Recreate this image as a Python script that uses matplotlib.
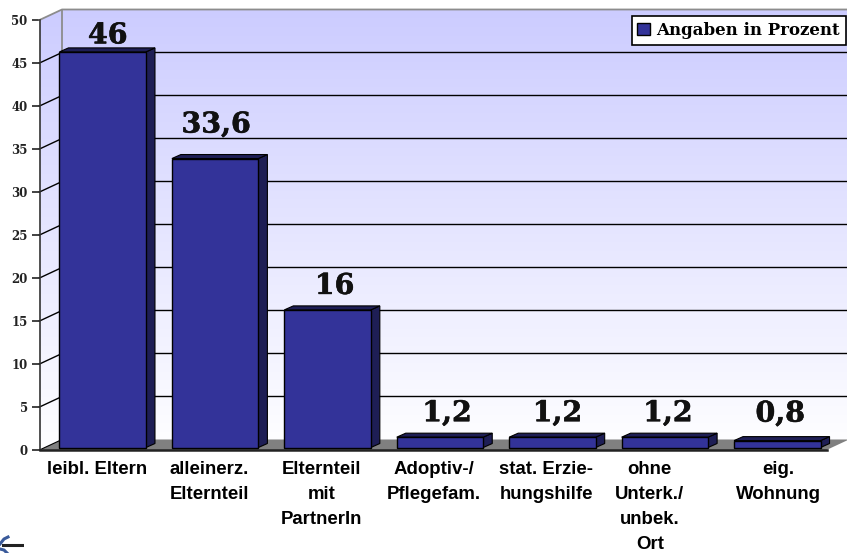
import matplotlib
matplotlib.use("Agg")
import matplotlib.pyplot as plt
import matplotlib.patheffects as pe
from matplotlib.patches import Polygon
from matplotlib.transforms import ScaledTranslation
import numpy as np

categories = ["leibl. Eltern", "alleinerz.\nElternteil", "Elternteil\nmit\nPartnerIn",
              "Adoptiv-/\nPflegefam.", "stat. Erzie-\nhungshilfe", "ohne\nUnterk./\nunbek.\nOrt",
              "eig.\nWohnung"]
values = [46, 33.6, 16, 1.2, 1.2, 1.2, 0.8]
value_labels = ["46", "33,6", "16", "1,2", "1,2", "1,2", "0,8"]
yticks = [0, 5, 10, 15, 20, 25, 30, 35, 40, 45, 50]

# hand placement of the text, px
label_lift = [8.5, 26, 16, 16, 16, 16, 19]
label_shift = [5, 1, 7, 7, 5, 3, 3]
cat_shift = [1, 1, 1, 1, 1, -8, 8]

W, H = 847, 553
FRONT = "#333399"
DARK = "#1e1e55"

fig = plt.figure(figsize=(W / 100, H / 100), dpi=100, facecolor="white")
ax = fig.add_axes([39.5 / W, 1 - 450 / H, 787 / W, 430 / H])
ax.patch.set_alpha(0)

# px -> data units
px_x = 7 / 787
px_y = 50 / 430
dx, dy = 22.5 * px_x, 10.5 * px_y
left, right = -0.5, 6.5

# walls with gradient
wall = Polygon([(left, 0), (left, 50), (left + dx, 50 + dy), (right + dx, 50 + dy),
                (right + dx, dy), (left + dx, dy)], closed=True, transform=ax.transData,
               facecolor="none", edgecolor="none", clip_on=False)
ax.add_patch(wall)
grad = np.linspace(0, 1, 256).reshape(-1, 1, 1)
top_col = np.array([204, 204, 255]) / 255
img = top_col + grad * (1 - top_col)
im = ax.imshow(img, extent=(left, right + dx, 0, 50 + dy), aspect="auto", origin="upper", zorder=0)
im.set_clip_box(fig.bbox)
im.set_clip_path(wall)
ax.set_xlim(left, right)
ax.set_ylim(0, 50)

# floor
ax.add_patch(Polygon([(left, 0), (left + dx, dy), (right + dx, dy), (right, 0)],
                     closed=True, facecolor="#808080", edgecolor="none", zorder=1, clip_on=False))

# gridlines
for t in yticks[1:-1]:
    ax.plot([left, left + dx, right + dx], [t, t + dy, t + dy], color="black", lw=1,
            zorder=2, clip_on=False, solid_joinstyle="miter")
ax.plot([left, left + dx, right + dx], [50, 50 + dy, 50 + dy], color="#8c8c8c", lw=1.3, zorder=2, clip_on=False)
ax.plot([left + dx, left + dx], [dy, 50 + dy], color="#8c8c8c", lw=1.3, zorder=2, clip_on=False)
ax.plot([left, left + dx], [0, dy], color="black", lw=0.8, zorder=2, clip_on=False)

# bars
width = 86.5 * px_x
shift = 7 * px_x
base = 2.5 * px_y
bdx, bdy = 9 * px_x, 4 * px_y
bars = ax.bar(np.arange(len(values)) + shift, values, width, bottom=base, color=FRONT,
              edgecolor="black", linewidth=1, zorder=4, label="Angaben in Prozent")
for bar, val, txt, lift, sh in zip(bars, values, value_labels, label_lift, label_shift):
    x0 = bar.get_x()
    x1 = x0 + bar.get_width()
    top = base + val
    ax.add_patch(Polygon([(x1, base), (x1 + bdx, base + bdy), (x1 + bdx, top + bdy), (x1, top)],
                         closed=True, facecolor=DARK, edgecolor="black", lw=0.8, zorder=3, clip_on=False))
    ax.add_patch(Polygon([(x0, top), (x0 + bdx, top + bdy), (x1 + bdx, top + bdy), (x1, top)],
                         closed=True, facecolor=DARK, edgecolor="black", lw=0.8, zorder=3, clip_on=False))
    t = ax.annotate(txt, (x0 + bar.get_width() / 2, top), xytext=(sh * 0.72, lift * 0.72), textcoords="offset points",
                    ha="center", va="baseline", family="DejaVu Serif", weight="bold", fontsize=20.5,
                    color="#111111", zorder=6, annotation_clip=False)
    t.set_path_effects([pe.withStroke(linewidth=0.4, foreground="#111111")])

# axes
for s in ["top", "right"]:
    ax.spines[s].set_visible(False)
ax.spines["left"].set_linewidth(1.2)
ax.spines["bottom"].set_linewidth(1.8)
ax.spines["bottom"].set_color("#222222")
ax.spines["left"].set_color("#333333")
ax.set_yticks(yticks)
ax.set_yticklabels([str(t) for t in yticks], family="DejaVu Serif", weight="bold", fontsize=8.5, color="#222222")
ax.tick_params(axis="y", length=5.5, width=1.2, pad=3, color="#222222")
ax.set_xticks(np.arange(len(categories)))
ax.set_xticklabels(categories, family="Liberation Sans", weight="bold", fontsize=13.4, color="black", linespacing=1.6)
ax.tick_params(axis="x", length=0, pad=8)
for lab, off in zip(ax.get_xticklabels(), cat_shift):
    lab.set_transform(lab.get_transform() + ScaledTranslation(off / 100, 0, fig.dpi_scale_trans))

leg = ax.legend(loc="upper right", bbox_to_anchor=(846 / W, 1 - 16 / H), bbox_transform=fig.transFigure,
                borderaxespad=0, fancybox=False, framealpha=1, edgecolor="black", handlelength=0.75,
                handleheight=0.75, handletextpad=0.4, borderpad=0.35,
                prop={"family": "DejaVu Serif", "weight": "bold", "size": 12})
leg.get_frame().set_linewidth(1.2)
leg.set_zorder(7)

# cut-off logo in the bottom corner
logo = fig.add_axes([0, 0, 24 / W, 18 / H])
logo.set_xlim(0, 24)
logo.set_ylim(18, 0)
logo.axis("off")
logo.plot([3, 22], [10, 10], color="#222222", lw=2.2)
logo.plot([0, 4, 8], [9, 4, 2], color="#3a5a9a", lw=2.2)
logo.plot([0, 4, 7], [14, 15, 18], color="#3a5a9a", lw=2.2)

fig.savefig("out.png", dpi=100)
